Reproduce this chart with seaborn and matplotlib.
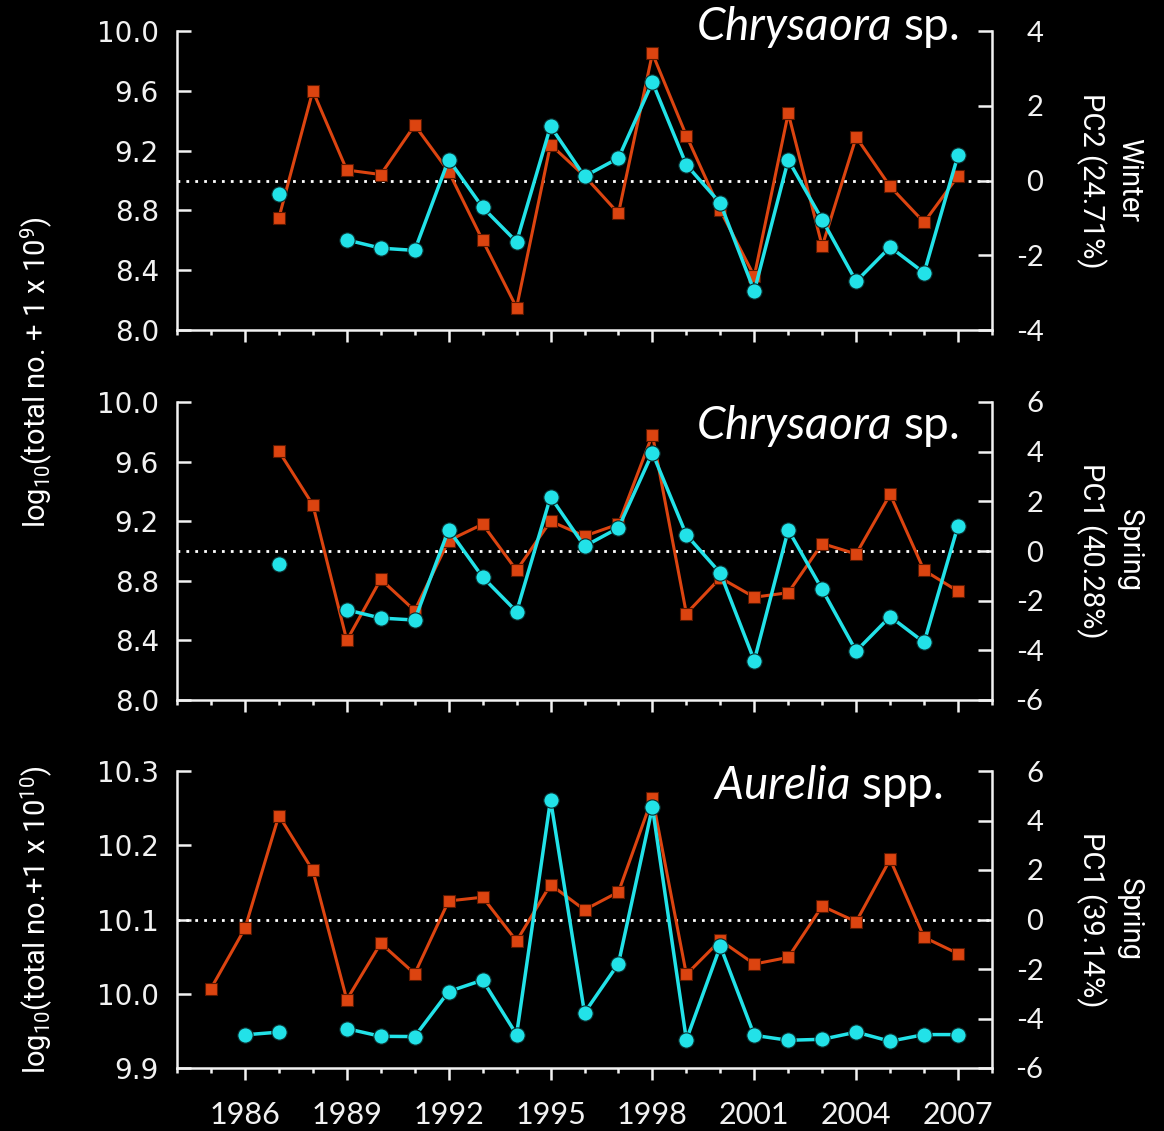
import numpy as np
import pandas as pd
import matplotlib
matplotlib.use("Agg")
import matplotlib.pyplot as plt
import seaborn as sns
from matplotlib import font_manager
from matplotlib.ticker import FixedLocator, FormatStrFormatter, NullFormatter

# ---------------- data ----------------
nan = np.nan
years = list(range(1985, 2008))

chry_winter_log = [nan, nan, 8.75, 9.60, 9.07, 9.04, 9.37, 9.06, 8.60, 8.15, 9.24, 9.03,
                   8.78, 9.85, 9.30, 8.80, 8.36, 9.45, 8.56, 9.29, 8.96, 8.72, 9.03]
chry_winter_pc2 = [nan, nan, -0.36, nan, -1.59, -1.81, -1.87, 0.56, -0.72, -1.64, 1.45, 0.11,
                   0.60, 2.63, 0.42, -0.61, -2.96, 0.55, -1.05, -2.70, -1.78, -2.47, 0.68]

chry_spring_log = [nan, nan, 9.67, 9.31, 8.40, 8.81, 8.60, 9.07, 9.18, 8.87, 9.20, 9.10,
                   9.18, 9.78, 8.58, 8.82, 8.69, 8.72, 9.05, 8.98, 9.38, 8.87, 8.73]
chry_spring_pc1 = [nan, nan, -0.51, nan, -2.37, -2.70, -2.78, 0.86, -1.05, -2.44, 2.18, 0.19,
                   0.93, 3.95, 0.65, -0.89, -4.41, 0.85, -1.55, -4.03, -2.64, -3.68, 1.02]

aur_spring_log = [10.007, 10.088, 10.240, 10.166, 9.992, 10.068, 10.027, 10.125, 10.130,
                  10.071, 10.147, 10.113, 10.137, 10.264, 10.026, 10.072, 10.040, 10.049,
                  10.118, 10.097, 10.181, 10.076, 10.054]
aur_spring_pc1 = [nan, -4.66, -4.55, nan, -4.41, -4.72, -4.73, -2.91, -2.45, -4.65, 4.84,
                  -3.77, -1.78, 4.54, -4.86, -1.08, -4.68, -4.88, -4.84, -4.55, -4.92,
                  -4.65, -4.65]

titles = [("Chrysaora", " sp."), ("Chrysaora", " sp."), ("Aurelia", " spp.")]
right_labels = ["Winter\nPC2 (24.71%)", "Spring\nPC1 (40.28%)", "Spring\nPC1 (39.14%)"]
left_ticks = [[8.0, 8.4, 8.8, 9.2, 9.6, 10.0], [8.0, 8.4, 8.8, 9.2, 9.6, 10.0],
              [9.9, 10.0, 10.1, 10.2, 10.3]]
right_ticks = [[-4, -2, 0, 2, 4], [-6, -4, -2, 0, 2, 4, 6], [-6, -4, -2, 0, 2, 4, 6]]
ref_level = [9.0, 9.0, 10.1]
year_labels = [1986, 1989, 1992, 1995, 1998, 2001, 2004, 2007]

log_series = [chry_winter_log, chry_spring_log, aur_spring_log]
pc_series = [chry_winter_pc2, chry_spring_pc1, aur_spring_pc1]

# ---------------- style ----------------
sns.set_theme(style="ticks")
names = {f.name for f in font_manager.fontManager.ttflist}
NARROW = "Liberation Sans Narrow" if "Liberation Sans Narrow" in names else "Roboto"
NSIZE = 24 if NARROW == "Liberation Sans Narrow" else 21
plt.rcParams.update({
    "font.family": ["DejaVu Sans"],
    "axes.unicode_minus": False,
    "mathtext.fontset": "custom",
    "mathtext.rm": NARROW,
    "mathtext.it": "Lato:italic",
    "figure.facecolor": "black",
    "axes.facecolor": "black",
    "savefig.facecolor": "black",
})

ORANGE = "#DC4410"
CYAN = "#22E2E8"
WHITE = "#F2F2F2"

W, H = 1164, 1131
fig = plt.figure(figsize=(W / 100, H / 100), dpi=100)


def frame(vals):
    rows, seg, gap = [], 0, True
    for y, v in zip(years, vals):
        if np.isnan(v):
            gap = True
            continue
        if gap:
            seg += 1
            gap = False
        rows.append((y, v, seg))
    return pd.DataFrame(rows, columns=["year", "value", "seg"])


panels = [(31, 330), (402, 700), (771, 1068)]
title_pos = [(959, 40), (959, 439), (943, 799)]
left_px, right_px = 177, 992

for i, (top, bot) in enumerate(panels):
    ax = fig.add_axes([left_px / W, 1 - bot / H, (right_px - left_px) / W, (bot - top) / H])
    ax.set_facecolor("black")
    ax.axhline(ref_level[i], color="white", linestyle=(0, (1, 2.2)), linewidth=2, zorder=1)
    sns.lineplot(data=frame(log_series[i]), x="year", y="value", units="seg", estimator=None,
                 color=ORANGE, linewidth=2.2, marker="s", markersize=8.5,
                 markeredgecolor="#5a1800", markeredgewidth=0.8, ax=ax, legend=False, zorder=2)
    ax.set_xlim(1984, 2008)
    ax.set_ylim(left_ticks[i][0], left_ticks[i][-1])
    ax.yaxis.set_major_locator(FixedLocator(left_ticks[i]))
    ax.yaxis.set_major_formatter(FormatStrFormatter("%.1f"))
    ax.xaxis.set_major_locator(FixedLocator(year_labels))
    ax.xaxis.set_minor_locator(FixedLocator(list(range(1984, 2009))))
    if i < 2:
        ax.xaxis.set_major_formatter(NullFormatter())
    ax.set_xlabel("")
    ax.set_ylabel("")
    for s in ["top", "right"]:
        ax.spines[s].set_visible(False)
    for s in ["left", "bottom"]:
        ax.spines[s].set_color(WHITE)
        ax.spines[s].set_linewidth(1.8)
    ax.tick_params(axis="y", direction="in", length=10, width=1.8, color=WHITE,
                   labelcolor=WHITE, labelsize=20, pad=13)
    ax.tick_params(axis="x", which="major", direction="out", length=8.6, width=1.8,
                   color=WHITE, labelcolor=WHITE, labelsize=22, pad=15,
                   labelfontfamily="Lato")
    ax.tick_params(axis="x", which="minor", direction="out", length=3.8, width=1.8,
                   color=WHITE)

    ax2 = ax.twinx()
    ax2.set_facecolor("none")
    sns.lineplot(data=frame(pc_series[i]), x="year", y="value", units="seg", estimator=None,
                 color=CYAN, linewidth=2.5, marker="o", markersize=11,
                 markeredgecolor="#0a2a2a", markeredgewidth=0.8, ax=ax2, legend=False)
    ax2.set_xlim(1984, 2008)
    ax2.set_ylim(right_ticks[i][0], right_ticks[i][-1])
    ax2.yaxis.set_major_locator(FixedLocator(right_ticks[i]))
    ax2.set_ylabel("")
    for s in ["top", "left", "bottom"]:
        ax2.spines[s].set_visible(False)
    ax2.spines["right"].set_color(WHITE)
    ax2.spines["right"].set_linewidth(1.8)
    ax2.tick_params(axis="y", direction="in", length=10, width=1.8, color=WHITE,
                    labelcolor=WHITE, labelsize=21, pad=37, labelfontfamily="Lato")
    for lab in ax2.get_yticklabels():
        lab.set_horizontalalignment("right")

    it, rest = titles[i]
    tx, ty = title_pos[i]
    fig.text(tx / W, 1 - ty / H, r"$\mathit{%s}$%s" % (it, rest), ha="right", va="baseline",
             family="Lato", fontsize=33, color="white")
    fig.text(1110 / W, 1 - ((top + bot) / 2) / H, right_labels[i], rotation=270,
             ha="center", va="center", multialignment="center", family=NARROW,
             fontsize=NSIZE, color="white", linespacing=1.35)

fig.text(37 / W, 1 - 372 / H,
         r"log$_\mathregular{10}$(total no. + 1 x 10$^\mathregular{9}$)",
         rotation=90, ha="center", va="center", family=NARROW, fontsize=NSIZE, color="white")
fig.text(37 / W, 1 - 920 / H,
         r"log$_\mathregular{10}$(total no.+1 x 10$^\mathregular{10}$)",
         rotation=90, ha="center", va="center", family=NARROW, fontsize=NSIZE, color="white")

fig.savefig("out.png", dpi=100, facecolor="black")
